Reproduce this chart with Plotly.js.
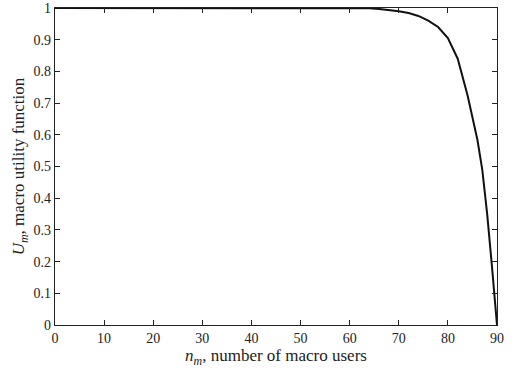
<!DOCTYPE html>
<html><head><meta charset="utf-8">
<script src="https://cdn.plot.ly/plotly-3.0.1.min.js"></script>
<style>html,body{margin:0;padding:0;background:#fff;}</style>
</head><body>
<div id="chart" style="width:515px;height:371px;"></div>
<script>
const users = [0, 60, 62, 64, 66, 68, 70, 72, 74, 76, 78, 80, 82, 84, 86, 87, 88, 89, 90];
const utility = [1, 1, 1, 0.999, 0.997, 0.994, 0.99, 0.984, 0.975, 0.96, 0.94, 0.905, 0.84, 0.725, 0.585, 0.49, 0.35, 0.18, 0];
const xTicks = [0, 10, 20, 30, 40, 50, 60, 70, 80, 90];
const yTicks = [0, 0.1, 0.2, 0.3, 0.4, 0.5, 0.6, 0.7, 0.8, 0.9, 1];
const yTickText = ['0', '0.1', '0.2', '0.3', '0.4', '0.5', '0.6', '0.7', '0.8', '0.9', '1'];

const fam = 'Liberation Serif, Times New Roman, serif';
const font = {family: fam, size: 14, color: '#222'};
Plotly.newPlot('chart', [{
  x: users, y: utility, mode: 'lines', type: 'scatter',
  line: {color: '#111', width: 2}, hoverinfo: 'skip'
}], {
  width: 515, height: 371,
  margin: {l: 55, r: 18, t: 8, b: 46},
  paper_bgcolor: '#fff', plot_bgcolor: '#fff',
  showlegend: false, font: font,
  xaxis: {
    range: [0, 90], tickvals: xTicks, ticks: 'inside', ticklen: 5, tickcolor: '#222',
    showline: true, linecolor: '#222', linewidth: 1.2, mirror: 'ticks', showgrid: false, zeroline: false,
    tickfont: font,
    title: {text: '<i>n</i><sub><i>m</i></sub>, number of macro users', font: {family: fam, size: 17, color: '#222'}, standoff: 0}
  },
  yaxis: {
    range: [0, 1], tickvals: yTicks, ticktext: yTickText, ticks: 'inside', ticklen: 5, tickcolor: '#222',
    showline: true, linecolor: '#222', linewidth: 1.2, mirror: 'ticks', showgrid: false, zeroline: false,
    tickfont: font,
    title: {text: '<i>U</i><sub><i>m</i></sub>, macro utility function', font: {family: fam, size: 17, color: '#222'}, standoff: 4}
  }
}, {staticPlot: true, displayModeBar: false});
</script>
</body></html>
